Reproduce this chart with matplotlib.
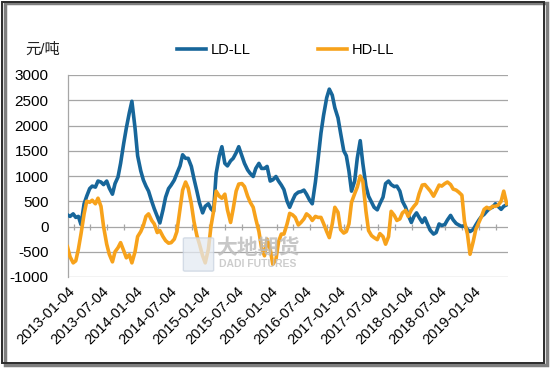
import matplotlib
matplotlib.use("Agg")
import matplotlib.pyplot as plt
from matplotlib.patches import Rectangle, FancyBboxPatch
import pandas as pd

plt.rcParams['font.family'] = ['Liberation Sans', 'Noto Sans CJK SC', 'DejaVu Sans']

# semi-monthly sample dates (1st and 15th)
dates = pd.date_range('2013-01-01', '2019-07-01', freq='SMS')

ld_ll = [
    # 2013
    230, 200, 250, 180, 200, 40, 450, 600, 750, 800, 780, 900,
    880, 830, 900, 760, 640, 850, 980, 1250, 1650, 1950, 2250, 2480,
    # 2014
    1950, 1400, 1100, 920, 800, 700, 500, 350, 200, 70, 330, 580,
    750, 820, 920, 1050, 1200, 1420, 1350, 1350, 1190, 950, 700, 470,
    # 2015
    270, 400, 450, 350, 300, 1050, 1400, 1580, 1250, 1200, 1300, 1350,
    1460, 1580, 1400, 1250, 1120, 1050, 990, 1150, 1250, 1150, 1150, 1190,
    # 2016
    900, 925, 990, 900, 820, 730, 500, 380, 520, 630, 680, 690,
    720, 640, 520, 450, 880, 1320, 1850, 2200, 2550, 2720, 2600, 2350,
    # 2017
    2150, 1850, 1500, 1400, 1100, 700, 900, 1350, 1700, 1250, 800, 600,
    480, 380, 330, 450, 580, 850, 900, 830, 790, 800, 700, 500,
    # 2018
    380, 230, 80, 200, 270, 180, 80, 170, 30, -80, -150, -120,
    50, 20, 40, 130, 220, 130, 60, 30, 0, 20, -60, -100,
    # 2019
    -60, 30, 130, 200, 240, 300, 360, 380, 450, 400, 340, 400, 430,
]

hd_ll = [
    # 2013
    -400, -600, -720, -680, -450, -150, 250, 500, 480, 520, 450, 560,
    400, 0, -350, -550, -700, -500, -420, -320, -480, -620, -560, -720,
    # 2014
    -500, -200, -100, 20, 200, 250, 120, 50, -120, -80, -200, -280,
    -330, -320, -250, -100, 350, 720, 880, 760, 450, 100, -180, -350,
    # 2015
    -580, -720, -450, 0, 300, 700, 600, 560, 640, 330, 80, 350,
    700, 840, 850, 790, 600, 480, 380, 150, -100, -420, -580, -250,
    # 2016
    -450, -750, -650, -300, -150, -150, 50, 260, 230, 180, 30, 80,
    150, 250, 200, 120, 200, 180, 180, 60, -100, -220, 50, 380,
    # 2017
    280, -60, -130, -100, 50, 480, 650, 780, 1000, 900, 300, -80,
    -180, -220, -260, -140, -200, -350, -200, 300, 220, 120, 150, 270,
    # 2018
    320, 200, 330, 400, 460, 650, 820, 830, 760, 700, 600, 700,
    820, 800, 850, 880, 830, 740, 720, 680, 620, 100, -150, -550,
    # 2019
    -300, -60, 80, 200, 340, 380, 350, 400, 400, 420, 500, 700, 450,
]

tick_labels = ['2013-01-04', '2013-07-04', '2014-01-04', '2014-07-04',
               '2015-01-04', '2015-07-04', '2016-01-04', '2016-07-04',
               '2017-01-04', '2017-07-04', '2018-01-04', '2018-07-04',
               '2019-01-04']
y_ticks = [-1000, -500, 0, 500, 1000, 1500, 2000, 2500, 3000]

blue = '#17669A'
orange = '#F7A21B'
grid_c = '#A6A6A6'

fig = plt.figure(figsize=(5.5, 3.69), dpi=100)
ax = fig.add_axes([68 / 550, 1 - 277 / 369, 440 / 550, 202 / 369])

ax.plot(dates, ld_ll, color=blue, lw=2.6, label='LD-LL', zorder=3)
ax.plot(dates, hd_ll, color=orange, lw=2.6, label='HD-LL', zorder=4)

tick_dates = pd.to_datetime(tick_labels)
ax.set_xlim(pd.Timestamp('2013-01-04'), pd.Timestamp('2019-07-08'))
ax.set_ylim(-1000, 3000)
ax.set_yticks(y_ticks)
ax.set_yticklabels([str(v) for v in y_ticks], fontsize=11)
ax.set_xticks(tick_dates)
ax.set_xticklabels(tick_labels, rotation=45, ha='right', va='top',
                   rotation_mode='anchor', fontsize=10.5)
ax.tick_params(axis='both', length=0)
ax.tick_params(axis='y', pad=14)
ax.tick_params(axis='x', pad=5)
ax.grid(axis='y', color=grid_c, lw=0.9)
ax.set_axisbelow(True)
for s in ['top', 'right', 'bottom']:
    ax.spines[s].set_visible(False)
ax.spines['left'].set_color(grid_c)
ax.spines['left'].set_linewidth(0.9)

# small quarterly tick marks on the zero line
q_ticks = pd.date_range('2013-01-04', '2019-07-04', freq='3MS') + pd.Timedelta(days=3)
ax.plot(q_ticks, [0] * len(q_ticks), ls='none', marker='|', ms=4,
        color=grid_c, mew=0.9, zorder=2)

# legend
fig.legend(loc='center', bbox_to_anchor=(0.519, 1 - 50 / 369), ncol=2,
           frameon=False, fontsize=10.5, handlelength=2.0, columnspacing=4.6,
           handletextpad=0.3)

fig.text(25 / 550, 1 - 50 / 369, '元/吨', fontsize=11, va='center',
         ha='left', color='#222222')

# watermark
fig.patches.append(FancyBboxPatch((185 / 550, 1 - 270 / 369), 27 / 550, 31 / 369,
                                  boxstyle='round,pad=0.003', transform=fig.transFigure,
                                  fc='#E4EAF2', ec='#C9D3E0', lw=1, alpha=0.75, zorder=5))
fig.text(258 / 550, 1 - 247 / 369, '大地期货', fontsize=15, fontweight='bold',
         color='#BDBDBD', ha='center', va='center', alpha=0.85, zorder=6,
         family=['Noto Sans CJK SC'])
fig.text(258 / 550, 1 - 264 / 369, 'DADI FUTURES', fontsize=7.5, fontweight='bold',
         color='#C4C4C4', ha='center', va='center', alpha=0.85, zorder=6)

# outer frame with shadow
fig.patches.append(Rectangle((5 / 550, 4 / 369), 542 / 550, 362 / 369,
                             transform=fig.transFigure, fc='none', ec='#7F7F7F',
                             lw=2.5, zorder=0))
fig.patches.append(Rectangle((2 / 550, 6 / 369), 542 / 550, 361 / 369,
                             transform=fig.transFigure, fc='none', ec='#2B2B2B',
                             lw=1.4, zorder=1))

fig.savefig('out.png', dpi=100)
